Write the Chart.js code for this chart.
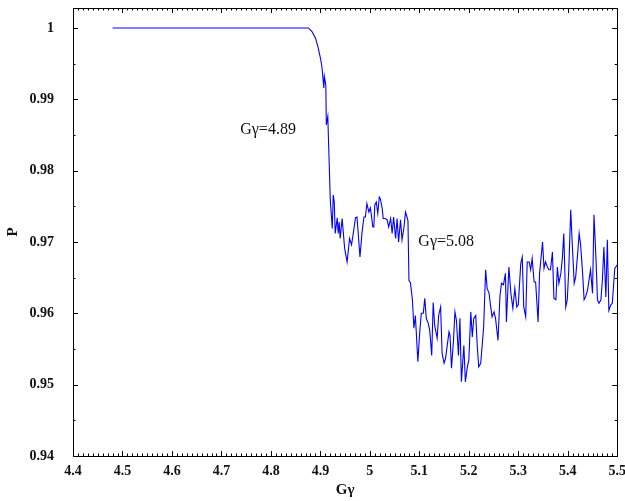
<!DOCTYPE html>
<html>
<head>
<meta charset="utf-8">
<script src="https://cdn.jsdelivr.net/npm/chart.js@4.4.1/dist/chart.umd.min.js"></script>
<style>
  html, body { margin: 0; padding: 0; background: #fff; }
  #wrap { width: 625px; height: 501px; }
</style>
</head>
<body>
<div id="wrap"><canvas id="chart" width="625" height="501"></canvas></div>
<script>
// G-gamma values (x) and polarization P
const xVals = [
  4.48, 4.55, 4.6, 4.65, 4.7, 4.75, 4.8, 4.85, 4.876, 4.883,
  4.890, 4.895, 4.900, 4.903, 4.907, 4.908, 4.911, 4.912, 4.915, 4.917,
  4.920, 4.924, 4.926, 4.928, 4.930, 4.934, 4.936, 4.938, 4.940, 4.944,
  4.949, 4.954, 4.959, 4.963, 4.966, 4.971, 4.974, 4.980, 4.984, 4.988,
  4.991, 4.994, 4.998, 5.001, 5.003, 5.006, 5.008, 5.010, 5.013, 5.016,
  5.019, 5.021, 5.025, 5.027, 5.031, 5.035, 5.038, 5.042, 5.045, 5.048,
  5.052, 5.055, 5.058, 5.062, 5.065, 5.069, 5.072, 5.075, 5.077, 5.079,
  5.082, 5.086, 5.089, 5.092, 5.097, 5.101, 5.104, 5.108, 5.111, 5.114,
  5.118, 5.121, 5.125, 5.128, 5.131, 5.136, 5.139, 5.143, 5.146, 5.150,
  5.153, 5.156, 5.160, 5.162, 5.165, 5.169, 5.172, 5.175, 5.179, 5.182,
  5.185, 5.190, 5.193, 5.197, 5.200, 5.204, 5.207, 5.210, 5.214, 5.217,
  5.220, 5.224, 5.227, 5.230, 5.234, 5.237, 5.241, 5.244, 5.247, 5.251,
  5.254, 5.259, 5.263, 5.266, 5.270, 5.274, 5.276, 5.281, 5.285, 5.289,
  5.293, 5.297, 5.300, 5.305, 5.308, 5.311, 5.315, 5.318, 5.322, 5.325,
  5.328, 5.332, 5.335, 5.340, 5.343, 5.349, 5.352, 5.355, 5.359, 5.362,
  5.365, 5.369, 5.372, 5.376, 5.379, 5.382, 5.386, 5.389, 5.392, 5.396,
  5.399, 5.402, 5.406, 5.409, 5.413, 5.416, 5.420, 5.423, 5.426, 5.430,
  5.433, 5.436, 5.440, 5.443, 5.446, 5.450, 5.453, 5.457, 5.460, 5.463,
  5.467, 5.470, 5.473, 5.477, 5.480, 5.483, 5.487, 5.490, 5.495, 5.497,
  5.500
];
const pVals = [
  1, 1, 1, 1, 1, 1, 1, 1, 1, 0.9995,
  0.9986, 0.9974, 0.9958, 0.9946, 0.9916, 0.9932, 0.9920, 0.9864, 0.9876, 0.9829,
  0.9759, 0.9719, 0.9766, 0.9756, 0.9712, 0.9734, 0.9712, 0.9728, 0.9705, 0.9733,
  0.9691, 0.9672, 0.9705, 0.9696, 0.9710, 0.9734, 0.9735, 0.9679, 0.9712, 0.9735,
  0.9735, 0.9754, 0.9742, 0.9748, 0.9738, 0.9721, 0.9721, 0.9752, 0.9756, 0.9740,
  0.9763, 0.9761, 0.9747, 0.9733, 0.9733, 0.9731, 0.9721, 0.9733, 0.9712, 0.9735,
  0.9705, 0.9733, 0.9700, 0.9731, 0.9703, 0.9721, 0.9742, 0.9735, 0.9730, 0.9646,
  0.9643, 0.9619, 0.9579, 0.9597, 0.9532, 0.9576, 0.9600, 0.9600, 0.9621, 0.9593,
  0.9586, 0.9576, 0.9541, 0.9615, 0.9583, 0.9565, 0.9597, 0.9609, 0.9544, 0.9530,
  0.9537, 0.9553, 0.9574, 0.9569, 0.9523, 0.9562, 0.9602, 0.9590, 0.9541, 0.9593,
  0.9504, 0.9555, 0.9504, 0.9525, 0.9534, 0.9602, 0.9567, 0.9593, 0.9597, 0.9555,
  0.9525, 0.9530, 0.9555, 0.9581, 0.9661, 0.9635, 0.9628, 0.9610, 0.9595, 0.9602,
  0.9593, 0.9562, 0.9625, 0.9642, 0.9640, 0.9656, 0.9588, 0.9665, 0.9628, 0.9607,
  0.9635, 0.9609, 0.9612, 0.9670, 0.9679, 0.9609, 0.9595, 0.9672, 0.9672, 0.9661,
  0.9677, 0.9644, 0.9644, 0.9588, 0.9656, 0.9700, 0.9663, 0.9672, 0.9665, 0.9661,
  0.9661, 0.9686, 0.9621, 0.9619, 0.9665, 0.9642, 0.9656, 0.9677, 0.9712, 0.9609,
  0.9619, 0.9661, 0.9745, 0.9698, 0.9642, 0.9651, 0.9684, 0.9712, 0.9696, 0.9656,
  0.9619, 0.9623, 0.9633, 0.9647, 0.9661, 0.9628, 0.9738, 0.9677, 0.9619, 0.9614,
  0.9619, 0.9647, 0.9693, 0.9623, 0.9703, 0.9604, 0.9612, 0.9614, 0.9663, 0.9665,
  0.9668
];

const xTicks = [4.4, 4.5, 4.6, 4.7, 4.8, 4.9, 5, 5.1, 5.2, 5.3, 5.4, 5.5];
const yTicks = [0.94, 0.95, 0.96, 0.97, 0.98, 0.99, 1];

// text notes inside the plot: [label, x, P]
const notes = [
  ['G\u03b3=4.89', 4.738, 0.9857],
  ['G\u03b3=5.08', 5.098, 0.9700]
];

const SERIF = '"Liberation Serif", "Times New Roman", serif';

// frame with inward ticks on all four sides, plus the text notes
const framePlugin = {
  id: 'frame',
  afterDraw(chart) {
    const ctx = chart.ctx;
    const a = chart.chartArea;
    const xs = chart.scales.x, ys = chart.scales.y;
    ctx.save();
    ctx.strokeStyle = '#000';
    ctx.lineWidth = 1;
    ctx.strokeRect(Math.round(a.left) + 0.5, Math.round(a.top) + 0.5,
                   Math.round(a.right - a.left), Math.round(a.bottom - a.top));

    ctx.beginPath();
    // x minor ticks every 0.01, major at labelled values
    for (let i = 0; i <= 110; i++) {
      const v = 4.4 + i * 0.01;
      const px = Math.round(xs.getPixelForValue(v)) + 0.5;
      const len = (i % 10 === 0) ? 5 : 2.5;
      ctx.moveTo(px, a.bottom); ctx.lineTo(px, a.bottom - len);
      ctx.moveTo(px, a.top); ctx.lineTo(px, a.top + len);
    }
    // y ticks every 0.005
    for (let i = 0; i <= 12; i++) {
      const v = 0.94 + i * 0.005;
      const py = Math.round(ys.getPixelForValue(v)) + 0.5;
      const len = (i % 2 === 0) ? 5 : 2.5;
      ctx.moveTo(a.left, py); ctx.lineTo(a.left + len, py);
      ctx.moveTo(a.right, py); ctx.lineTo(a.right - len, py);
    }
    ctx.stroke();

    ctx.fillStyle = '#111';
    ctx.font = '16px ' + SERIF;
    ctx.textAlign = 'left';
    ctx.textBaseline = 'middle';
    notes.forEach(n => {
      ctx.fillText(n[0], xs.getPixelForValue(n[1]), ys.getPixelForValue(n[2]));
    });
    ctx.restore();
  }
};

const ctx = document.getElementById('chart').getContext('2d');
new Chart(ctx, {
  type: 'line',
  data: {
    datasets: [{
      data: xVals.map((x, i) => ({ x: x, y: pVals[i] })),
      borderColor: '#0000ff',
      borderWidth: 1.1,
      pointRadius: 0,
      fill: false,
      tension: 0
    }]
  },
  options: {
    responsive: false,
    animation: false,
    layout: { padding: { top: 8, right: 0, bottom: 0, left: 0 } },
    plugins: {
      legend: { display: false },
      tooltip: { enabled: false }
    },
    scales: {
      x: {
        type: 'linear',
        min: 4.4,
        max: 5.5,
        grid: { display: false },
        border: { display: false },
        afterBuildTicks: s => { s.ticks = xTicks.map(v => ({ value: v })); },
        afterFit: s => { s.height = 45; },
        ticks: {
          autoSkip: false,
          maxRotation: 0,
          padding: -1,
          color: '#111',
          font: { family: SERIF, size: 14, weight: 'bold' },
          callback: v => String(v)
        },
        title: {
          display: true,
          text: 'G\u03b3',
          color: '#111',
          font: { family: SERIF, size: 15, weight: 'bold' },
          padding: { top: 0, bottom: 2 }
        }
      },
      y: {
        min: 0.94,
        max: 1.0028,
        grid: { display: false },
        border: { display: false },
        afterBuildTicks: s => { s.ticks = yTicks.map(v => ({ value: v })); },
        afterFit: s => { s.width = 73; s.paddingTop = 0; s.paddingBottom = 0; },
        ticks: {
          padding: 11,
          color: '#111',
          font: { family: SERIF, size: 14, weight: 'bold' },
          callback: v => String(v)
        },
        title: {
          display: true,
          text: 'P',
          color: '#111',
          font: { family: SERIF, size: 15, weight: 'bold' },
          padding: { top: 4, bottom: 0 }
        }
      }
    }
  },
  plugins: [framePlugin]
});
</script>
</body>
</html>
